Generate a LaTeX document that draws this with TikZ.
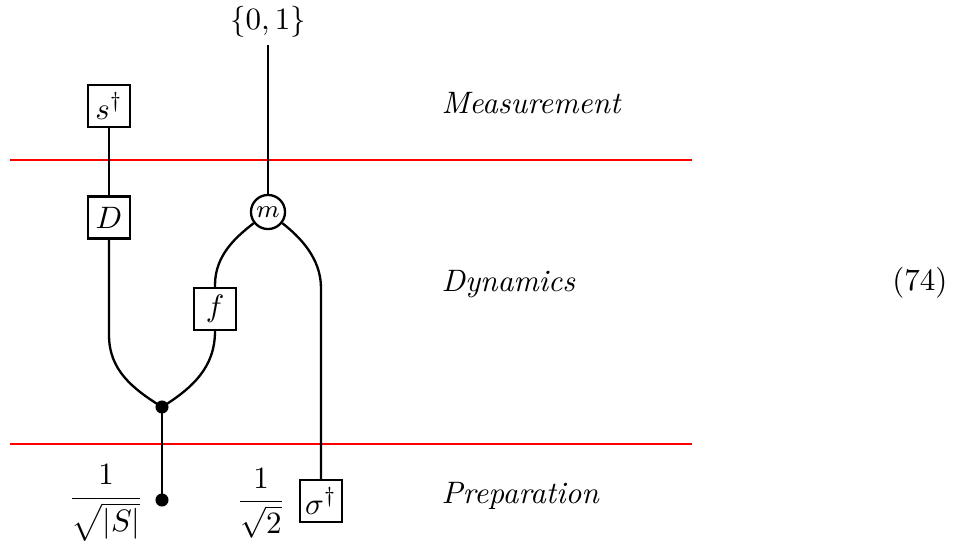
\documentclass[tikz,border=0pt]{standalone}
\usepackage{amsmath}
\begin{document}
\begin{tikzpicture}[x=0.3227pt,y=-0.3227pt,
  wire/.style={line width=0.75pt},
  sep/.style={red, line width=0.4pt},
  gate/.style={draw, line width=0.75pt, minimum size=13.5pt, inner sep=1.5pt},
  meas/.style={draw, circle, line width=0.75pt, inner sep=0.5pt, minimum size=11pt, font=\footnotesize},
  blob/.style={fill, circle, inner sep=0pt, minimum size=4.2pt},
  lbl/.style={anchor=base west, inner sep=0pt, font=\itshape}]
\useasboundingbox (0,0) rectangle (962,545);
% separators
\coordinate (r1a) at (10,160); \coordinate (r1b) at (692,160);
\coordinate (r2a) at (10,444); \coordinate (r2b) at (692,444);
\draw[sep] (r1a) -- (r1b);
\draw[sep] (r2a) -- (r2b);
% nodes
\node[gate] (sd) at (109,106) {$s^\dagger$};
\node[gate] (D) at (109,217.5) {$D$};
\node[meas] (m) at (268,212) {$m$};
\node (out) at (268,22) {$\{0,1\}$};
\coordinate (outw) at (268,45);
\node[gate] (f) at (215,309) {$f$};
\node[blob] (cp) at (162,407) {};
\node[blob] (st) at (162,500) {};
\node[gate] (sig) at (321,501) {$\sigma^\dagger$};
\node[inner sep=0pt] (fr1) at (106,503) {$\dfrac{1}{\sqrt{|S|}}$};
\node[inner sep=0pt] (fr2) at (261,503) {$\dfrac{1}{\sqrt{2}}$};
\coordinate (lw) at (109,335);
\coordinate (fw) at (215,285);
\coordinate (rw) at (321,288);
% wires
\draw[wire] (sd) -- (D);
\draw[wire] (outw) -- (m);
\draw[wire] (D) -- (lw) to[out=-90,in=148] (cp.center);
\draw[wire] (f) to[out=-90,in=32] (cp.center);
\draw[wire] (cp.center) -- (st.center);
\draw[wire] (m.-142) .. controls +(142:22) and +(-90:30) .. (fw) -- (f);
\draw[wire] (m.-38) .. controls +(38:22) and +(-90:30) .. (rw) -- (sig);
% labels
\node[lbl] (L1) at (441,113) {Measurement};
\node[lbl] (L2) at (441,291) {Dynamics};
\node[lbl] (L3) at (441,503) {Preparation};
\node[anchor=base east, inner sep=0pt] (eq) at (948,290) {(74)};
\end{tikzpicture}
\end{document}
